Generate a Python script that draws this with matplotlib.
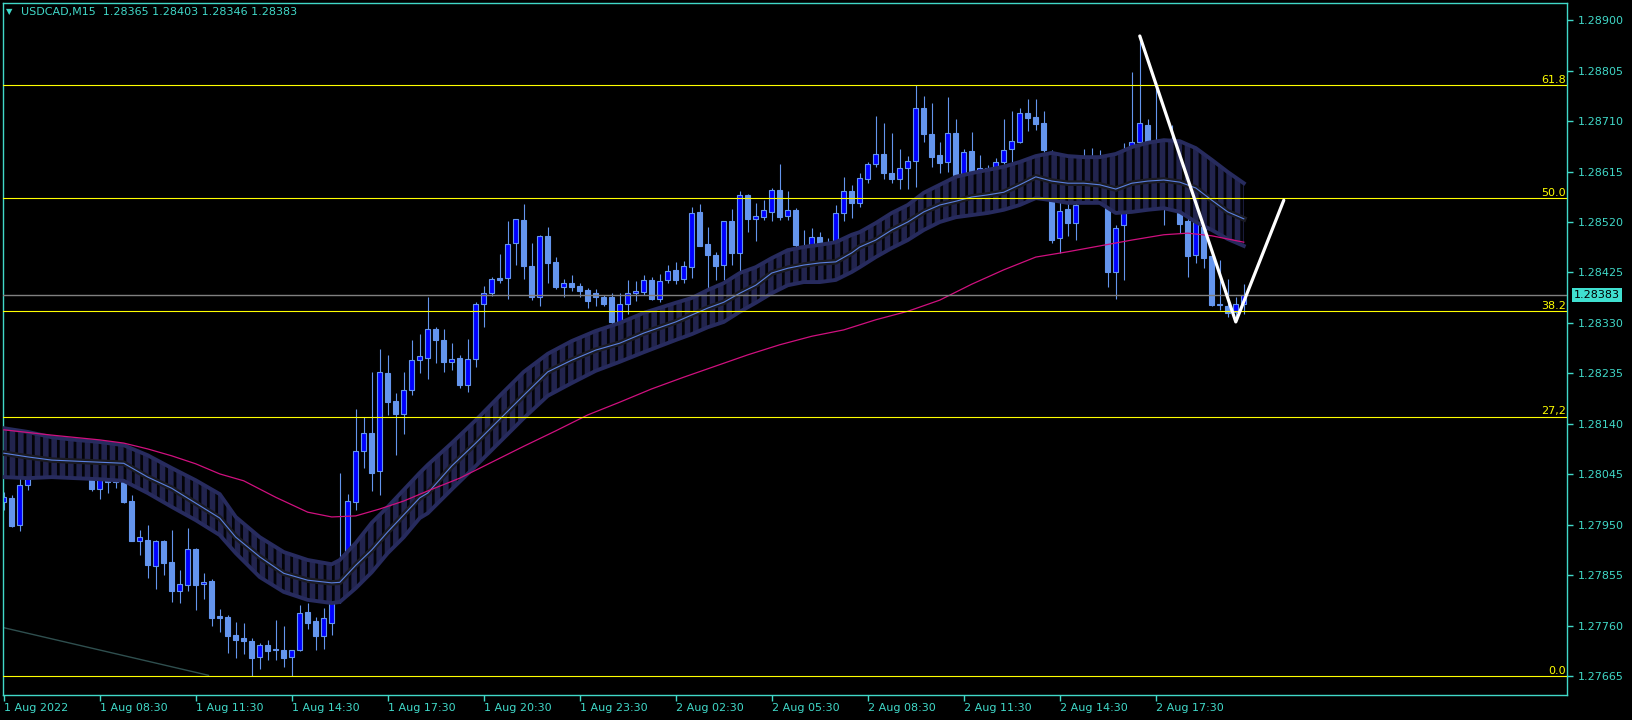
import numpy as np
import matplotlib
matplotlib.use("Agg")
import matplotlib.pyplot as plt
import matplotlib.transforms as mtransforms

plt.rcParams['font.family'] = ['DejaVu Sans']
plt.rcParams['hatch.linewidth'] = 4.0

# USDCAD M15, one entry per bar (bar 0 = first bar on the left)
opens = [1.27994, 1.28001, 1.27950, 1.28026, 1.28049, 1.28061, 1.28072, 1.28065, 1.28076, 1.28068,
         1.28057, 1.28042, 1.28018, 1.28038, 1.28031, 1.28031, 1.27995, 1.27920, 1.27922, 1.27873,
         1.27920, 1.27880, 1.27826, 1.27837, 1.27905, 1.27838, 1.27844, 1.27778, 1.27777, 1.27743,
         1.27737, 1.27731, 1.27701, 1.27724, 1.27716, 1.27714, 1.27701, 1.27714, 1.27787, 1.27769,
         1.27741, 1.27765, 1.27812, 1.27893, 1.27994, 1.28090, 1.28123, 1.28051, 1.28236, 1.28183,
         1.28159, 1.28203, 1.28260, 1.28265, 1.28318, 1.28298, 1.28257, 1.28265, 1.28213, 1.28262,
         1.28365, 1.28386, 1.28415, 1.28414, 1.28480, 1.28524, 1.28437, 1.28379, 1.28493, 1.28444,
         1.28398, 1.28406, 1.28399, 1.28392, 1.28386, 1.28379, 1.28379, 1.28332, 1.28365, 1.28386,
         1.28389, 1.28411, 1.28376, 1.28410, 1.28430, 1.28412, 1.28436, 1.28539, 1.28478, 1.28457,
         1.28439, 1.28521, 1.28462, 1.28570, 1.28526, 1.28530, 1.28539, 1.28580, 1.28532, 1.28542,
         1.28467, 1.28458, 1.28492, 1.28475, 1.28480, 1.28536, 1.28578, 1.28555, 1.28600, 1.28629,
         1.28647, 1.28612, 1.28600, 1.28622, 1.28634, 1.28734, 1.28685, 1.28646, 1.28632, 1.28687,
         1.28607, 1.28654, 1.28618, 1.28614, 1.28614, 1.28632, 1.28658, 1.28671, 1.28725, 1.28718,
         1.28706, 1.28652, 1.28489, 1.28544, 1.28518, 1.28560, 1.28599, 1.28607, 1.28591, 1.28426,
         1.28514, 1.28650, 1.28671, 1.28703, 1.28669, 1.28656, 1.28609, 1.28622, 1.28521, 1.28457,
         1.28518, 1.28456, 1.28365, 1.28362, 1.28350, 1.28365]
highs = [1.28012, 1.28006, 1.28038, 1.28063, 1.28068, 1.28081, 1.28091, 1.28087, 1.28095, 1.28087,
         1.28076, 1.28053, 1.28046, 1.28053, 1.28049, 1.28042, 1.28006, 1.27940, 1.27950, 1.27922,
         1.27922, 1.27940, 1.27865, 1.27944, 1.27906, 1.27860, 1.27849, 1.27792, 1.27781, 1.27767,
         1.27765, 1.27737, 1.27727, 1.27733, 1.27771, 1.27760, 1.27714, 1.27799, 1.27804, 1.27777,
         1.27794, 1.27827, 1.28048, 1.28009, 1.28168, 1.28154, 1.28238, 1.28281, 1.28270, 1.28198,
         1.28238, 1.28298, 1.28309, 1.28379, 1.28323, 1.28319, 1.28292, 1.28270, 1.28300, 1.28369,
         1.28400, 1.28417, 1.28460, 1.28522, 1.28526, 1.28554, 1.28480, 1.28496, 1.28510, 1.28454,
         1.28413, 1.28420, 1.28405, 1.28396, 1.28394, 1.28382, 1.28386, 1.28386, 1.28411, 1.28409,
         1.28420, 1.28417, 1.28422, 1.28439, 1.28445, 1.28447, 1.28549, 1.28554, 1.28510, 1.28464,
         1.28522, 1.28545, 1.28578, 1.28573, 1.28555, 1.28561, 1.28584, 1.28629, 1.28578, 1.28546,
         1.28505, 1.28508, 1.28501, 1.28490, 1.28552, 1.28604, 1.28589, 1.28612, 1.28632, 1.28719,
         1.28706, 1.28687, 1.28657, 1.28644, 1.28778, 1.28757, 1.28743, 1.28671, 1.28756, 1.28713,
         1.28657, 1.28689, 1.28646, 1.28627, 1.28641, 1.28714, 1.28729, 1.28735, 1.28752, 1.28751,
         1.28728, 1.28656, 1.28558, 1.28555, 1.28558, 1.28657, 1.28659, 1.28656, 1.28599, 1.28514,
         1.28669, 1.28803, 1.28870, 1.28714, 1.28775, 1.28665, 1.28703, 1.28637, 1.28533, 1.28543,
         1.28524, 1.28462, 1.28449, 1.28412, 1.28379, 1.28403]
lows = [1.27978, 1.27947, 1.27939, 1.28016, 1.28038, 1.28046, 1.28053, 1.28049, 1.28057, 1.28046,
        1.28042, 1.28013, 1.27999, 1.28011, 1.28019, 1.27992, 1.27919, 1.27893, 1.27850, 1.27829,
        1.27856, 1.27805, 1.27804, 1.27826, 1.27790, 1.27810, 1.27760, 1.27749, 1.27709, 1.27700,
        1.27708, 1.27666, 1.27679, 1.27696, 1.27696, 1.27683, 1.27665, 1.27712, 1.27755, 1.27714,
        1.27716, 1.27743, 1.27803, 1.27884, 1.27978, 1.28058, 1.28014, 1.28007, 1.28156, 1.28082,
        1.28122, 1.28195, 1.28236, 1.28225, 1.28255, 1.28238, 1.28241, 1.28208, 1.28200, 1.28248,
        1.28323, 1.28381, 1.28405, 1.28376, 1.28439, 1.28413, 1.28373, 1.28362, 1.28405, 1.28394,
        1.28378, 1.28390, 1.28378, 1.28359, 1.28362, 1.28361, 1.28323, 1.28323, 1.28347, 1.28372,
        1.28383, 1.28373, 1.28370, 1.28406, 1.28403, 1.28406, 1.28415, 1.28474, 1.28396, 1.28410,
        1.28410, 1.28440, 1.28423, 1.28502, 1.28485, 1.28524, 1.28521, 1.28524, 1.28524, 1.28467,
        1.28445, 1.28449, 1.28464, 1.28464, 1.28475, 1.28522, 1.28528, 1.28549, 1.28593, 1.28624,
        1.28601, 1.28594, 1.28583, 1.28583, 1.28585, 1.28671, 1.28624, 1.28612, 1.28615, 1.28599,
        1.28595, 1.28599, 1.28603, 1.28599, 1.28607, 1.28630, 1.28633, 1.28668, 1.28692, 1.28693,
        1.28652, 1.28480, 1.28461, 1.28494, 1.28487, 1.28555, 1.28580, 1.28576, 1.28398, 1.28376,
        1.28411, 1.28646, 1.28665, 1.28656, 1.28646, 1.28514, 1.28590, 1.28499, 1.28417, 1.28442,
        1.28433, 1.28362, 1.28354, 1.28342, 1.28340, 1.28346]
closes = [1.28002, 1.27948, 1.28026, 1.28049, 1.28061, 1.28072, 1.28065, 1.28076, 1.28068, 1.28057,
          1.28046, 1.28018, 1.28038, 1.28031, 1.28034, 1.27993, 1.27920, 1.27928, 1.27874, 1.27919,
          1.27878, 1.27826, 1.27838, 1.27904, 1.27837, 1.27842, 1.27775, 1.27775, 1.27741, 1.27734,
          1.27732, 1.27700, 1.27725, 1.27713, 1.27714, 1.27700, 1.27714, 1.27785, 1.27766, 1.27741,
          1.27774, 1.27816, 1.27874, 1.27995, 1.28090, 1.28123, 1.28048, 1.28237, 1.28182, 1.28159,
          1.28203, 1.28260, 1.28267, 1.28318, 1.28298, 1.28257, 1.28263, 1.28213, 1.28262, 1.28365,
          1.28386, 1.28412, 1.28411, 1.28478, 1.28525, 1.28438, 1.28378, 1.28493, 1.28443, 1.28398,
          1.28406, 1.28398, 1.28391, 1.28372, 1.28378, 1.28366, 1.28332, 1.28365, 1.28386, 1.28390,
          1.28411, 1.28375, 1.28409, 1.28427, 1.28411, 1.28437, 1.28536, 1.28475, 1.28457, 1.28438,
          1.28521, 1.28462, 1.28570, 1.28526, 1.28531, 1.28542, 1.28580, 1.28530, 1.28542, 1.28477,
          1.28452, 1.28491, 1.28471, 1.28479, 1.28536, 1.28578, 1.28555, 1.28602, 1.28629, 1.28647,
          1.28613, 1.28600, 1.28622, 1.28634, 1.28734, 1.28685, 1.28643, 1.28631, 1.28687, 1.28609,
          1.28651, 1.28609, 1.28622, 1.28622, 1.28632, 1.28656, 1.28672, 1.28725, 1.28716, 1.28704,
          1.28656, 1.28486, 1.28541, 1.28519, 1.28552, 1.28599, 1.28607, 1.28591, 1.28425, 1.28508,
          1.28652, 1.28670, 1.28706, 1.28668, 1.28656, 1.28609, 1.28622, 1.28516, 1.28456, 1.28527,
          1.28453, 1.28364, 1.28363, 1.28349, 1.28366, 1.28383]

# envelope ribbon (read at selected bars)
ribbon_bars = [0, 3, 6, 9, 12, 15, 18, 21, 24, 27, 29, 32, 35, 38, 41, 42, 44, 46, 48, 50,
               52, 53, 56, 59, 62, 65, 68, 71, 74, 77, 80, 84, 86, 88, 90, 92, 94, 96, 98, 100,
               102, 104, 106, 107, 109, 111, 113, 115, 117, 119, 121, 123, 125, 127, 129, 131, 133, 135, 137, 139,
               141, 143, 145, 147, 149, 151, 153, 155]
ribbon_upper = [1.28132, 1.28125, 1.28115, 1.28110, 1.28106, 1.28100, 1.28081, 1.28057, 1.28034, 1.28008,
                1.27965, 1.27927, 1.27899, 1.27884, 1.27876, 1.27884, 1.27916, 1.27954, 1.27984, 1.28016,
                1.28048, 1.28063, 1.28104, 1.28147, 1.28193, 1.28238, 1.28272, 1.28296, 1.28315, 1.28330,
                1.28349, 1.28368, 1.28377, 1.28392, 1.28405, 1.28424, 1.28435, 1.28452, 1.28467, 1.28473,
                1.28477, 1.28482, 1.28496, 1.28501, 1.28518, 1.28537, 1.28552, 1.28575, 1.28590, 1.28605,
                1.28612, 1.28618, 1.28624, 1.28633, 1.28644, 1.28650, 1.28644, 1.28642, 1.28642, 1.28648,
                1.28661, 1.28669, 1.28674, 1.28672, 1.28659, 1.28637, 1.28614, 1.28593]
ribbon_mid = [1.28085, 1.28078, 1.28072, 1.28070, 1.28068, 1.28066, 1.28040, 1.28019, 1.27991, 1.27963,
              1.27927, 1.27890, 1.27859, 1.27846, 1.27841, 1.27842, 1.27874, 1.27903, 1.27937, 1.27969,
              1.28001, 1.28010, 1.28061, 1.28104, 1.28149, 1.28194, 1.28238, 1.28260, 1.28279, 1.28292,
              1.28311, 1.28332, 1.28345, 1.28358, 1.28369, 1.28386, 1.28401, 1.28424, 1.28433, 1.28439,
              1.28443, 1.28445, 1.28462, 1.28473, 1.28486, 1.28505, 1.28520, 1.28539, 1.28552, 1.28559,
              1.28567, 1.28571, 1.28576, 1.28590, 1.28605, 1.28597, 1.28593, 1.28593, 1.28590, 1.28582,
              1.28593, 1.28597, 1.28599, 1.28595, 1.28584, 1.28561, 1.28539, 1.28526]
ribbon_lower = [1.28040, 1.28038, 1.28040, 1.28038, 1.28036, 1.28033, 1.28010, 1.27984, 1.27959, 1.27931,
                1.27897, 1.27852, 1.27824, 1.27809, 1.27803, 1.27805, 1.27831, 1.27861, 1.27897, 1.27927,
                1.27963, 1.27972, 1.28017, 1.28061, 1.28106, 1.28151, 1.28193, 1.28217, 1.28240, 1.28257,
                1.28275, 1.28298, 1.28309, 1.28322, 1.28332, 1.28351, 1.28368, 1.28386, 1.28401, 1.28407,
                1.28407, 1.28411, 1.28426, 1.28435, 1.28454, 1.28471, 1.28486, 1.28505, 1.28520, 1.28529,
                1.28533, 1.28537, 1.28543, 1.28552, 1.28565, 1.28561, 1.28556, 1.28556, 1.28556, 1.28537,
                1.28539, 1.28543, 1.28546, 1.28539, 1.28520, 1.28505, 1.28488, 1.28475]

# slow moving average (magenta)
ma_bars = [0, 6, 12, 15, 18, 21, 24, 27, 30, 34, 38, 41, 44, 47, 50, 53, 57, 61, 65, 69,
           73, 77, 81, 85, 89, 93, 97, 101, 105, 109, 113, 117, 121, 125, 129, 133, 137, 141, 145, 148,
           151, 155]
ma_vals = [1.28129, 1.28119, 1.28110, 1.28104, 1.28093, 1.28080, 1.28065, 1.28046, 1.28033, 1.28002,
           1.27974, 1.27965, 1.27967, 1.27980, 1.27995, 1.28014, 1.28038, 1.28068, 1.28098, 1.28127,
           1.28157, 1.28181, 1.28206, 1.28228, 1.28249, 1.28270, 1.28289, 1.28305, 1.28317, 1.28336,
           1.28352, 1.28373, 1.28403, 1.28430, 1.28454, 1.28464, 1.28475, 1.28486, 1.28496, 1.28499,
           1.28494, 1.28482]

# fibonacci levels
fib_labels = ["0.0", "27,2", "38.2", "50.0", "61.8"]
fib_prices = [1.27665, 1.28154, 1.28352, 1.28565, 1.28777]

# hand drawn objects
zz_bars = [142, 154, 160]
zz_prices = [1.28870, 1.28332, 1.28561]
trend_bars = [-0.1, 25.6]
trend_prices = [1.27757, 1.27667]

price_ticks = [1.27665, 1.27760, 1.27855, 1.27950, 1.28045, 1.28140, 1.28235,
               1.28330, 1.28425, 1.28520, 1.28615, 1.28710, 1.28805, 1.28900]
time_tick_bars = list(range(0, 145, 12))
time_labels = ["1 Aug 2022", "1 Aug 08:30", "1 Aug 11:30", "1 Aug 14:30", "1 Aug 17:30",
               "1 Aug 20:30", "1 Aug 23:30", "2 Aug 02:30", "2 Aug 05:30", "2 Aug 08:30",
               "2 Aug 11:30", "2 Aug 14:30", "2 Aug 17:30"]

AXC = '#40d8c8'
CANDLE = '#6495ed'

fig = plt.figure(figsize=(16.33, 7.2), dpi=100, facecolor='black')
ax = fig.add_axes([3 / 1633, 1 - 695 / 720, 1564 / 1633, 692.5 / 720])
ax.set_facecolor('black')
ax.set_xlim(-0.09, 195.4)
ax.set_ylim(1.27630, 1.28933)

o = np.array(opens)
h = np.array(highs)
l = np.array(lows)
c = np.array(closes)
x = np.arange(len(o))

# candles
ax.vlines(x, l, h, color=CANDLE, lw=0.8, zorder=2)
fills = np.where(c > o, '#0000ff', CANDLE)
ax.bar(x, np.abs(c - o), bottom=np.minimum(o, c), width=0.62, color=fills,
       edgecolor=CANDLE, linewidth=0.8, zorder=2.1)

# trend line
ax.plot(trend_bars, trend_prices, color='#2f4f4f', lw=1, zorder=1)

# ribbon
ax.fill_between(ribbon_bars, ribbon_lower, ribbon_upper, facecolor='#030308',
                edgecolor='#22244e', hatch='||', linewidth=0, zorder=3)
ax.plot(ribbon_bars, ribbon_upper, color='#272b5e', lw=2.8, zorder=3.1)
ax.plot(ribbon_bars, ribbon_lower, color='#272b5e', lw=2.8, zorder=3.1)
ax.plot(ribbon_bars, ribbon_mid, color='#1a1a22', lw=4, zorder=3.2)
ax.plot(ribbon_bars, ribbon_mid, color='#5a80e0', lw=0.8, zorder=3.3)

# slow MA
ax.plot(ma_bars, ma_vals, color='#d0107f', lw=0.9, zorder=3.5)

# bid line
ax.axhline(closes[-1], color='#808080', lw=1, zorder=4)

# fibo levels
tr = mtransforms.blended_transform_factory(ax.transAxes, ax.transData)
for lab, p in zip(fib_labels, fib_prices):
    ax.axhline(p, color='#ffff00', lw=0.8, zorder=5)
    ax.annotate(lab, xy=(1.0, p), xycoords=tr, xytext=(-1, 1.5), textcoords='offset points',
                ha='right', va='baseline', color='#ffff00', fontsize=8, zorder=5)

# zigzag
ax.plot(zz_bars, zz_prices, color='white', lw=2.3, zorder=6, solid_capstyle='round')

# axes styling
for sp in ax.spines.values():
    sp.set_color(AXC)
    sp.set_linewidth(1)
ax.yaxis.tick_right()
ax.set_yticks(price_ticks)
ax.set_yticklabels([f"{v:.5f}" for v in price_ticks])
ax.set_xticks(time_tick_bars)
ax.set_xticklabels(time_labels, ha='left')
ax.tick_params(axis='y', colors=AXC, length=4, width=1, pad=4, labelsize=8)
ax.tick_params(axis='x', colors=AXC, length=4, width=1, pad=2, labelsize=8)

# current price box
ax.text(1.0 + 7 / 1564, closes[-1], f"{closes[-1]:.5f}", transform=tr, ha='left', va='center',
        fontsize=8, color='black', zorder=7,
        bbox=dict(boxstyle='square,pad=0.2', facecolor='#40e0d0', edgecolor='none'))

# header
fig.text(6 / 1633, 1 - 12 / 720, "\u25bc", color=AXC, fontsize=6, va='center', ha='left')
fig.text(21 / 1633, 1 - 12 / 720,
         f"USDCAD,M15  {opens[-1]:.5f} {highs[-1]:.5f} {lows[-1]:.5f} {closes[-1]:.5f}",
         color=AXC, fontsize=8, va='center', ha='left')

fig.savefig('out.png', dpi=100, facecolor='black')
